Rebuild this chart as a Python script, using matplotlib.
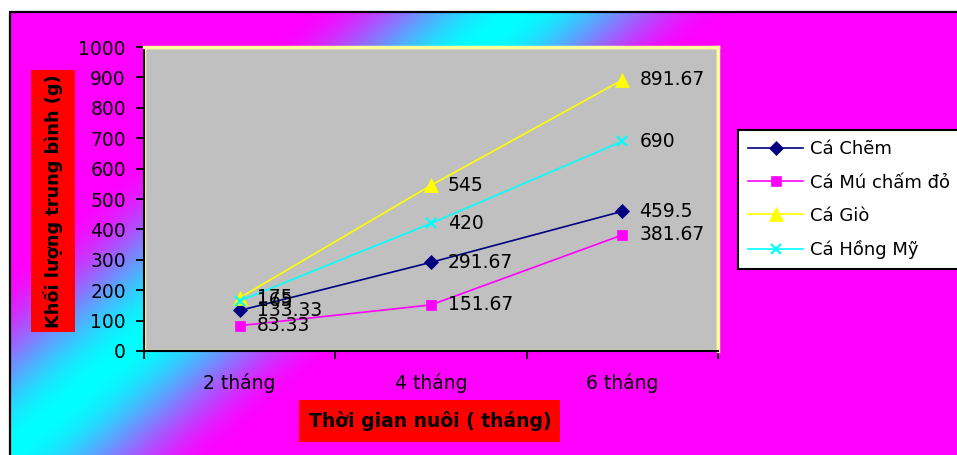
import numpy as np
import matplotlib
matplotlib.use("Agg")
import matplotlib.pyplot as plt
from matplotlib.patches import Rectangle

categories = ['2 tháng', '4 tháng', '6 tháng']
series_names = ['Cá Chẽm', 'Cá Mú chấm đỏ', 'Cá Giò', 'Cá Hồng Mỹ']
ca_chem = [133.33, 291.67, 459.5]
ca_mu_cham_do = [83.33, 151.67, 381.67]
ca_gio = [175, 545, 891.67]
ca_hong_my = [165, 420, 690]
y_ticks = [0, 100, 200, 300, 400, 500, 600, 700, 800, 900, 1000]
y_label = 'Khối lượng trung bình (g)'
x_label = 'Thời gian nuôi ( tháng)'

series_values = [ca_chem, ca_mu_cham_do, ca_gio, ca_hong_my]
colors = ['#000080', '#FF00FF', '#FFFF00', '#00FFFF']
markers = ['D', 's', '^', 'x']
msizes = [7.5, 7.5, 9.5, 7.5]

FS = 13.5
plt.rcParams['font.family'] = ['DejaVu Sans']

W, H = 957, 455
fig = plt.figure(figsize=(W / 100, H / 100), dpi=100)

# background gradient (figure pixel coordinates)
bg = fig.add_axes([0, 0, 1, 1])
bg.set_axis_off()
yy, xx = np.mgrid[0:H, 0:W] + 0.5
s = ((xx - 13) * 422 + (yy - 450) * 487) / 644.4
u = np.clip(np.abs(s) / 140.0, 0, 1)
t = 3 * u ** 2 - 2 * u ** 3
img = np.empty((H, W, 3))
img[..., 0] = t
img[..., 1] = 1 - t
img[..., 2] = 1
img[(xx < 9) | (yy < 11)] = 1
bg.imshow(img, extent=(0, W, H, 0), aspect='auto', interpolation='nearest')
bg.set_xlim(0, W)
bg.set_ylim(H, 0)
bg.plot([9.5, 9.5, W], [H, 11.5, 11.5], color='black', lw=1.6, solid_capstyle='butt')

# axis title boxes
bg.add_patch(Rectangle((31, 70), 44, 262, facecolor='#FF0000', edgecolor='none'))
bg.text(53, 201, y_label, rotation=90, ha='center', va='center',
        fontsize=12.8, fontweight='bold', color='black')
bg.add_patch(Rectangle((299, 400), 261, 42, facecolor='#FF0000', edgecolor='none'))
bg.text(430, 421, x_label, ha='center', va='center',
        fontsize=FS, fontweight='bold', color='black')

# main plot
ax = fig.add_axes([144 / W, 1 - 351 / H, 574 / W, 304 / H])
ax.set_facecolor('#C0C0C0')
ax.add_patch(Rectangle((0, 0), 1, 1, transform=ax.transAxes, facecolor='none',
                       edgecolor='#FFFF99', lw=2.5, zorder=1.5))
x = np.arange(1, len(categories) + 1)
handles = []
for name, vals, c, m, ms in zip(series_names, series_values, colors, markers, msizes):
    ln, = ax.plot(x, vals, color=c, marker=m, markersize=ms, lw=1.2,
                  markeredgewidth=1.6 if m == 'x' else 0.5, markeredgecolor=c, label=name,
                  zorder=3)
    handles.append(ln)
    for xi, v in zip(x, vals):
        ax.annotate(f'{v:g}', (xi, v), xytext=(17, 0), textcoords='offset pixels',
                    ha='left', va='center', fontsize=FS, color='black', zorder=4)

ax.set_xlim(0.5, len(categories) + 0.5)
ax.set_ylim(0, 1000)
ax.set_yticks(y_ticks)
ax.tick_params(axis='y', direction='out', length=6, width=1.3, pad=7,
               labelsize=FS, colors='black')
ax.set_xticks(np.arange(0.5, len(categories) + 1, 1))
ax.set_xticklabels([])
ax.set_xticks(x, minor=True)
ax.set_xticklabels(categories, minor=True)
ax.tick_params(axis='x', which='major', direction='out', length=6, width=1.3)
ax.tick_params(axis='x', which='minor', length=0, pad=16, labelsize=FS)
for side in ['left', 'bottom']:
    ax.spines[side].set_color('black')
    ax.spines[side].set_linewidth(1.5)
for side in ['top', 'right']:
    ax.spines[side].set_color('#FFFF99')
    ax.spines[side].set_linewidth(2.5)

leg = fig.legend(handles=handles, loc='upper left',
                 bbox_to_anchor=(738 / W, 1 - 130 / H), borderaxespad=0,
                 frameon=True, fancybox=False, edgecolor='black', facecolor='white',
                 framealpha=1, handlelength=3.0, handletextpad=0.4,
                 labelspacing=0.84, borderpad=0.58, fontsize=13)
leg.get_frame().set_linewidth(1.5)

fig.savefig('out.png', dpi=100)
